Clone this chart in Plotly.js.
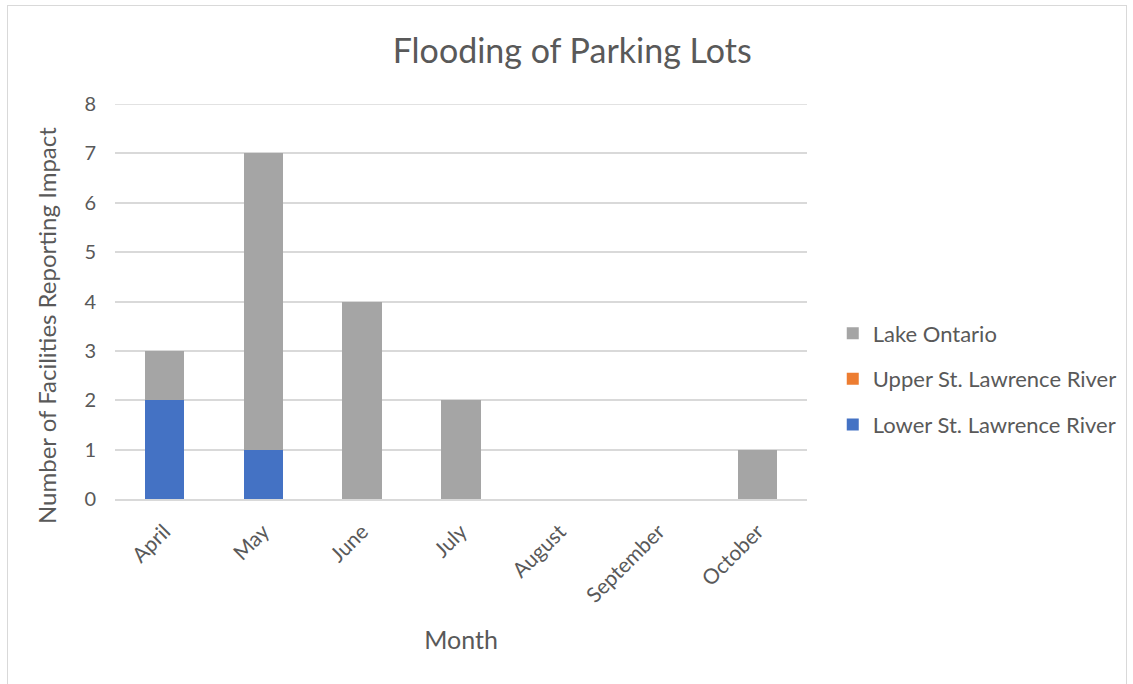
<!DOCTYPE html>
<html><head><meta charset="utf-8">
<script src="https://cdn.plot.ly/plotly-3.0.1.min.js"></script>
<style>
html,body{margin:0;padding:0;background:#fff;}
#frame{position:absolute;left:7px;top:5px;width:1120px;height:690px;border:1px solid #d9d9d9;box-sizing:border-box;}
#chart{position:absolute;left:0;top:0;width:1133px;height:684px;}
</style></head>
<body>
<div id="frame"></div>
<div id="chart"></div>
<script>
const months = ["April","May","June","July","August","September","October"];
const lowerStLawrence = [2,1,0,0,0,0,0];
const upperStLawrence = [0,0,0,0,0,0,0];
const lakeOntario = [1,6,4,2,0,0,1];
const yTicks = [0,1,2,3,4,5,6,7,8];

const font = "Lato, 'Open Sans', sans-serif";
const traces = [
  {type:'bar', name:'Lower St. Lawrence River', x:months, y:lowerStLawrence, marker:{color:'#4472c4'}, legendgroup:'a', legendrank:3},
  {type:'bar', name:'Upper St. Lawrence River', x:months, y:upperStLawrence, marker:{color:'#ed7d31'}, legendgroup:'b', legendrank:2},
  {type:'bar', name:'Lake Ontario', x:months, y:lakeOntario, marker:{color:'#a5a5a5'}, legendgroup:'c', legendrank:1}
];
const yMax = yTicks[yTicks.length-1];
const layout = {
  width:1133, height:684,
  paper_bgcolor:'rgba(0,0,0,0)', plot_bgcolor:'rgba(0,0,0,0)',
  margin:{l:115, r:326, t:104, b:185},
  barmode:'stack', bargap:0.6,
  font:{family:font, color:'#595959', size:20},
  title:{text:'Flooding of Parking Lots', font:{size:34, color:'#595959', family:font}, x:0.505, xanchor:'center', y:0.925, yanchor:'middle'},
  xaxis:{title:{text:'Month', font:{size:25}, standoff:26}, tickangle:-45, showline:true, linecolor:'#d9d9d9', linewidth:2, ticks:'', tickfont:{size:21}, ticklabelstandoff:10},
  yaxis:{range:[0,yMax], tickvals:yTicks, showgrid:true, gridcolor:'#d9d9d9', gridwidth:1.5, zeroline:false, ticks:'', tickfont:{size:20}, ticklabelstandoff:18},
  shapes:[{type:'line', xref:'paper', x0:0, x1:1, yref:'y', y0:yMax, y1:yMax, line:{color:'#d9d9d9', width:1.5}, layer:'below'}],
  annotations:[{text:'Number of Facilities Reporting Impact', textangle:-90, xref:'paper', yref:'paper', x:-0.1, y:0.44, xanchor:'center', yanchor:'middle', showarrow:false, font:{size:24, color:'#595959'}}],
  legend:{xref:'container', yref:'container', x:0.735, xanchor:'left', y:0.446, yanchor:'middle', traceorder:'grouped', tracegroupgap:14, font:{size:22}, itemwidth:30},
  showlegend:true
};
Plotly.newPlot('chart', traces, layout, {displayModeBar:false});
</script>
</body></html>
